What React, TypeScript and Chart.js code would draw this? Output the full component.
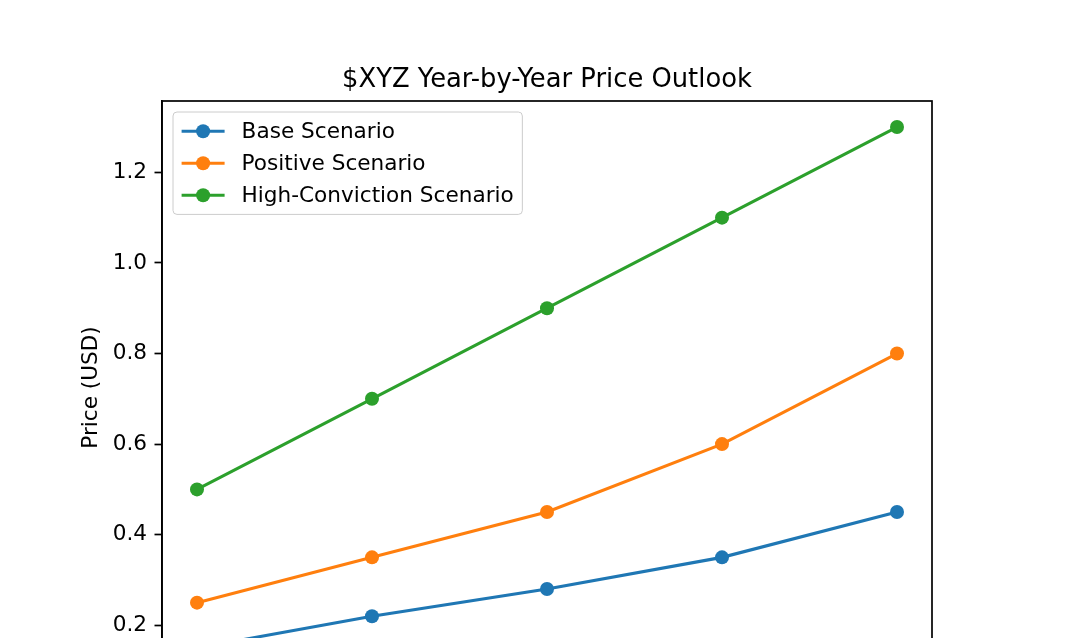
import React, { useEffect, useRef } from "react";
import { Chart, registerables } from "chart.js";

Chart.register(...registerables);

const categories = ["2025", "2026", "2027", "2028", "2029"];
const baseScenario = [0.15, 0.22, 0.28, 0.35, 0.45];
const positiveScenario = [0.25, 0.35, 0.45, 0.6, 0.8];
const highConvictionScenario = [0.5, 0.7, 0.9, 1.1, 1.3];
const seriesLabels = ["Base Scenario", "Positive Scenario", "High-Conviction Scenario"];
const seriesColors = ["#1f77b4", "#ff7f0e", "#2ca02c"];
const yTicks = [0.2, 0.4, 0.6, 0.8, 1.0, 1.2];
const titleText = "$XYZ Year-by-Year Price Outlook";
const yLabelText = "Price (USD)";

const FONT = '"DejaVu Sans", "Noto Sans", sans-serif';
const W = 1089;
const H = 800;
const MARKER_R = 7;

export default function App() {
  const ref = useRef<HTMLCanvasElement | null>(null);

  useEffect(() => {
    if (!ref.current) return;
    const all = [...baseScenario, ...positiveScenario, ...highConvictionScenario];
    const lo = Math.min(...all);
    const hi = Math.max(...all);
    const m = (hi - lo) * 0.05;
    const xm = (categories.length - 1) * 0.05;

    const series = [baseScenario, positiveScenario, highConvictionScenario];

    const decor = {
      id: "decor",
      afterDraw(chart: any) {
        const { ctx, chartArea: a } = chart;
        ctx.save();
        // frame
        ctx.strokeStyle = "#000";
        ctx.lineWidth = 1.7;
        ctx.strokeRect(a.left, a.top, a.right - a.left, a.bottom - a.top);
        // title
        ctx.fillStyle = "#000";
        ctx.font = `25.8px ${FONT}`;
        ctx.textAlign = "center";
        ctx.textBaseline = "alphabetic";
        ctx.fillText(titleText, (a.left + a.right) / 2, 87);
        // y label
        ctx.save();
        ctx.translate(91, (a.top + a.bottom) / 2);
        ctx.rotate(-Math.PI / 2);
        ctx.font = `21.6px ${FONT}`;
        ctx.textAlign = "center";
        ctx.textBaseline = "middle";
        ctx.fillText(yLabelText, 0, 0);
        ctx.restore();
        // legend
        const bx = a.left + 11;
        const by = a.top + 11;
        ctx.font = `21.6px ${FONT}`;
        let tw = 0;
        seriesLabels.forEach((l) => (tw = Math.max(tw, ctx.measureText(l).width)));
        const bw = 8.6 + 43 + 17 + tw + 8.6;
        const bh = 8.6 * 2 + 32 * 3 - 10.8;
        const r = 4;
        ctx.beginPath();
        ctx.moveTo(bx + r, by);
        ctx.lineTo(bx + bw - r, by);
        ctx.arcTo(bx + bw, by, bx + bw, by + r, r);
        ctx.lineTo(bx + bw, by + bh - r);
        ctx.arcTo(bx + bw, by + bh, bx + bw - r, by + bh, r);
        ctx.lineTo(bx + r, by + bh);
        ctx.arcTo(bx, by + bh, bx, by + bh - r, r);
        ctx.lineTo(bx, by + r);
        ctx.arcTo(bx, by, bx + r, by, r);
        ctx.closePath();
        ctx.fillStyle = "rgba(255,255,255,0.8)";
        ctx.fill();
        ctx.strokeStyle = "#cccccc";
        ctx.lineWidth = 1;
        ctx.stroke();
        seriesLabels.forEach((l, i) => {
          const cy = by + 8.6 + 10.6 + i * 32;
          const x0 = bx + 8.6;
          ctx.strokeStyle = seriesColors[i];
          ctx.lineWidth = 3.1;
          ctx.beginPath();
          ctx.moveTo(x0, cy);
          ctx.lineTo(x0 + 43, cy);
          ctx.stroke();
          ctx.fillStyle = seriesColors[i];
          ctx.beginPath();
          ctx.arc(x0 + 21.5, cy, MARKER_R, 0, Math.PI * 2);
          ctx.fill();
          ctx.fillStyle = "#000";
          ctx.textAlign = "left";
          ctx.textBaseline = "middle";
          ctx.fillText(l, x0 + 43 + 17, cy + 1);
        });
        ctx.restore();
      },
    };

    const chart = new Chart(ref.current, {
      type: "line",
      data: {
        datasets: series.map((s, i) => ({
          label: seriesLabels[i],
          data: s.map((v, j) => ({ x: j, y: v })),
          borderColor: seriesColors[i],
          backgroundColor: seriesColors[i],
          pointBackgroundColor: seriesColors[i],
          pointBorderWidth: 0,
          pointRadius: MARKER_R,
          borderWidth: 3.1,
          tension: 0,
          fill: false,
        })),
      },
      options: {
        animation: false,
        responsive: false,
        devicePixelRatio: 1,
        layout: { padding: { left: 0, right: 157, top: 101, bottom: 0 } },
        plugins: {
          legend: { display: false },
          title: { display: false },
          tooltip: { enabled: false },
        },
        scales: {
          x: {
            type: "linear",
            min: -xm,
            max: categories.length - 1 + xm,
            afterBuildTicks: (s: any) => {
              s.ticks = categories.map((_, i) => ({ value: i }));
            },
            afterFit: (s: any) => {
              s.height = H - 674;
            },
            grid: {
              drawOnChartArea: false,
              drawTicks: true,
              tickLength: 7.5,
              tickColor: "#000",
              tickWidth: 1.7,
            },
            border: { display: true, color: "#000", width: 1.7 },
            ticks: {
              padding: 7.5,
              color: "#000",
              font: { family: FONT, size: 21.6 },
              maxRotation: 0,
              callback: (v: any) => categories[Math.round(Number(v))] ?? "",
            },
          },
          y: {
            type: "linear",
            min: lo - m,
            max: hi + m,
            afterBuildTicks: (s: any) => {
              s.ticks = yTicks.map((v) => ({ value: v }));
            },
            afterFit: (s: any) => {
              s.width = 162;
            },
            grid: {
              drawOnChartArea: false,
              drawTicks: true,
              tickLength: 7.5,
              tickColor: "#000",
              tickWidth: 1.7,
            },
            border: { display: true, color: "#000", width: 1.7 },
            ticks: {
              padding: 7.5,
              color: "#000",
              font: { family: FONT, size: 21.6 },
              callback: (v: any) => Number(v).toFixed(1),
            },
          },
        },
      },
      plugins: [decor],
    });
    return () => chart.destroy();
  }, []);

  return (
    <div
      style={{
        position: "absolute",
        left: 0,
        top: 0,
        width: W,
        height: 638,
        overflow: "hidden",
        background: "#fff",
      }}
    >
      <canvas ref={ref} width={W} height={H} style={{ display: "block", width: W, height: H }} />
    </div>
  );
}
